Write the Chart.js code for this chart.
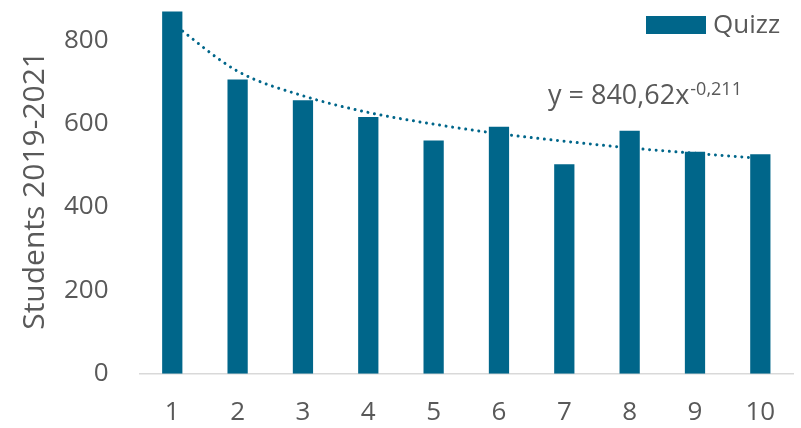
<!DOCTYPE html>
<html>
<head>
<meta charset="utf-8">
<script src="https://cdn.jsdelivr.net/npm/chart.js@4"></script>
<style>
  html, body { margin: 0; padding: 0; background: #ffffff; }
  #wrap { width: 801px; height: 428px; }
</style>
</head>
<body>
<div id="wrap"><canvas id="quizChart"></canvas></div>
<script>
// Quiz number and students per quiz
const quizLabels = ["1", "2", "3", "4", "5", "6", "7", "8", "9", "10"];
const quizStudents = [869, 706, 656, 616, 560, 593, 503, 583, 533, 527];
// Power trendline values at each quiz, y = 840,62x^-0,211
const trendValues = [841, 726, 667, 627, 599, 576, 558, 542, 529, 517];
const yTickValues = [0, 200, 400, 600, 800];
const trendMain = "y = 840,62x";
const trendExp = "-0,211";
const legendLabel = "Quizz";

const barColor = "#00668A";
const textColor = "#595959";
const fontName = "'Open Sans', sans-serif";

// Draws the legend and the trendline equation as text on the chart
const overlayPlugin = {
  id: "overlayText",
  afterDraw(chart) {
    const ctx = chart.ctx;
    const area = chart.chartArea;
    ctx.save();
    // legend
    const boxX = area.right - 147;
    ctx.fillStyle = barColor;
    ctx.fillRect(boxX, 16, 60, 18);
    ctx.fillStyle = textColor;
    ctx.font = "26px " + fontName;
    ctx.textBaseline = "middle";
    ctx.textAlign = "left";
    ctx.fillText(legendLabel, boxX + 67, 26);
    // equation
    ctx.textBaseline = "alphabetic";
    ctx.font = "27px " + fontName;
    const x0 = 548;
    ctx.fillText(trendMain, x0, 104);
    const w = ctx.measureText(trendMain).width;
    ctx.font = "18px " + fontName;
    ctx.fillText(trendExp, x0 + w + 1, 95);
    ctx.restore();
  },
};

const ctx = document.getElementById("quizChart").getContext("2d");
new Chart(ctx, {
  type: "bar",
  data: {
    labels: quizLabels,
    datasets: [
      {
        label: legendLabel,
        data: quizStudents,
        backgroundColor: barColor,
        borderWidth: 0,
        categoryPercentage: 1,
        barPercentage: 0.31,
        order: 1,
      },
      {
        type: "line",
        label: "Trend",
        data: trendValues,
        borderColor: barColor,
        borderWidth: 3,
        borderDash: [0.01, 6.6],
        borderCapStyle: "round",
        pointRadius: 0,
        cubicInterpolationMode: "monotone",
        fill: false,
        order: 2,
      },
    ],
  },
  options: {
    responsive: true,
    maintainAspectRatio: false,
    animation: false,
    layout: { padding: { left: 17, right: 8, top: 7, bottom: -23 } },
    plugins: {
      tooltip: { enabled: false },
      legend: { display: false },
    },
    scales: {
      x: {
        grid: { display: false, drawTicks: false },
        border: { display: true, color: "#D9D9D9", width: 1.5 },
        ticks: {
          color: textColor,
          font: { family: fontName, size: 26 },
          padding: 23,
          maxRotation: 0,
        },
      },
      y: {
        min: 0,
        max: 880,
        grid: { display: false, drawTicks: false },
        border: { display: false },
        afterBuildTicks: (axis) => {
          axis.ticks = yTickValues.map((v) => ({ value: v }));
        },
        afterFit: (axis) => {
          // tick labels never reach the plot edges, so no extra room is needed
          axis.paddingTop = 0;
          axis.paddingBottom = 0;
        },
        ticks: {
          color: textColor,
          font: { family: fontName, size: 26 },
          padding: 31,
        },
        title: {
          display: true,
          text: "Students 2019-2021",
          color: textColor,
          font: { family: fontName, size: 30 },
          padding: { top: 0, bottom: -20 },
        },
      },
    },
  },
  plugins: [overlayPlugin],
});
</script>
</body>
</html>
